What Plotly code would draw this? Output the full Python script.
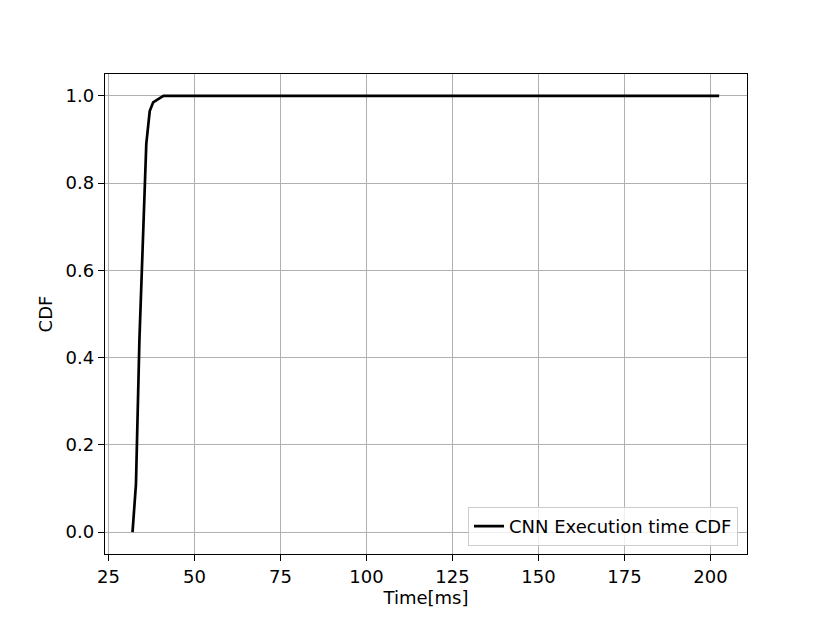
import plotly.graph_objects as go

# CDF of CNN execution time
time_ms = [32, 33, 34, 35, 36, 37, 38, 39, 40, 41, 202.5]
cdf = [0.0, 0.11, 0.44, 0.67, 0.89, 0.965, 0.985, 0.99, 0.995, 1.0, 1.0]

x_ticks = [25, 50, 75, 100, 125, 150, 175, 200]
y_ticks = [0.0, 0.2, 0.4, 0.6, 0.8, 1.0]

fig = go.Figure()
fig.add_trace(go.Scatter(x=time_ms, y=cdf, mode='lines',
                         line=dict(color='black', width=2.7),
                         name='CNN Execution time CDF'))

axis_style = dict(showgrid=True, gridcolor='#b0b0b0', gridwidth=1.4,
                  showline=True, linecolor='black', linewidth=1.3, mirror=True,
                  ticks='outside', ticklen=6, tickcolor='black', tickwidth=1.3,
                  zeroline=False, tickfont=dict(size=18, color='black'))

fig.update_xaxes(range=[24.0, 210.6], tickvals=x_ticks,
                 title=dict(text='Time[ms]', font=dict(size=18, color='black'), standoff=4),
                 **axis_style)
fig.update_yaxes(range=[-0.05, 1.05], tickvals=y_ticks, ticktext=[f'{v:.1f}' for v in y_ticks],
                 title=dict(text='CDF', font=dict(size=18, color='black'), standoff=8),
                 **axis_style)

fig.update_layout(
    width=822, height=615,
    margin=dict(l=97, r=83, t=66, b=69),
    plot_bgcolor='white', paper_bgcolor='white',
    font=dict(family='DejaVu Sans', size=18, color='black'),
    showlegend=True,
    legend=dict(x=0.986, y=0.017, xanchor='right', yanchor='bottom',
                bgcolor='rgba(255,255,255,0.8)', bordercolor='#cccccc', borderwidth=1,
                font=dict(size=18)),
)

fig.write_html("out.html")
